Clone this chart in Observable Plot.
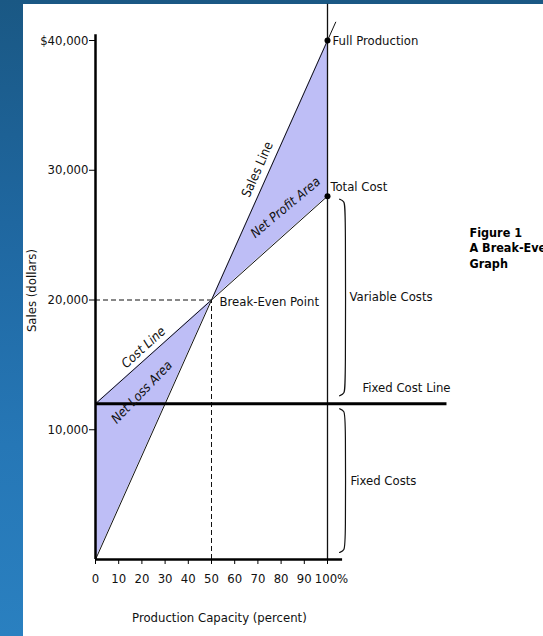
<!DOCTYPE html>
<html><head><meta charset="utf-8">
<script src="https://cdn.jsdelivr.net/npm/d3@7"></script>
<script src="https://cdn.jsdelivr.net/npm/@observablehq/plot@0.6"></script>
<style>
html,body{margin:0;padding:0;background:#fff;}
#frame{position:relative;width:543px;height:636px;overflow:hidden;background:linear-gradient(180deg,#1a5884 0%,#1f67a0 35%,#2677b6 70%,#2a80c0 100%);}
#panel{position:absolute;left:23px;top:4px;right:0;bottom:0;background:#fff;}
#chart{position:absolute;left:0;top:0;}
</style></head><body>
<div id="frame"><div id="panel"></div><div id="chart"></div></div>
<script>
// ---- data ----
const capacity = [0, 50, 100];            // production capacity (%)
const sales    = [0, 20000, 40000];       // sales line ($)
const cost     = [12000, 20000, 28000];   // total cost line ($)
const fixedCost = 12000;
const breakEvenCapacity = 50;
const breakEvenSales = 20000;
const xTicks = [0, 10, 20, 30, 40, 50, 60, 70, 80, 90, 100];
const xTickLabels = ["0", "10", "20", "30", "40", "50", "60", "70", "80", "90", "100%"];
const yTicks = [10000, 20000, 30000, 40000];
const yTickLabels = ["10,000", "20,000", "30,000", "$40,000"];

const rows = capacity.map((c, i) => ({capacity: c, sales: sales[i], cost: cost[i]}));

// ---- layout ----
const W = 543, H = 636, mL = 95, mR = 216, mT = 40, mB = 77;
const FONT = "'DejaVu Sans Condensed','DejaVu Sans',sans-serif";

function brace(topVal, botVal) {
  const xv = 107.8, xh = 105.2, hook = 770;
  return [
    {x: xh, y: topVal},
    {x: xv - 0.5, y: topVal - hook * 0.2},
    {x: xv, y: topVal - hook},
    {x: xv, y: botVal + hook},
    {x: xv - 0.5, y: botVal + hook * 0.2},
    {x: xh, y: botVal}
  ];
}

const slope = sales[2] / capacity[2];
const extX = 103.6;

const label = (t, x, y, o = {}) => Plot.text([t], {x: () => x, y: () => y, text: d => d, fill: "#111", fontSize: 13, ...o});

const chart = Plot.plot({
  width: W, height: H,
  marginLeft: mL, marginRight: mR, marginTop: mT, marginBottom: mB,
  x: {domain: [0, 100]},
  y: {domain: [0, 40000]},
  style: {background: "transparent", fontFamily: FONT, fontSize: "13px", color: "#111", overflow: "visible"},
  marks: [
    Plot.areaY(rows, {x: "capacity", y1: "sales", y2: "cost", fill: "#bebef6"}),
    Plot.ruleY([breakEvenSales], {x1: 0, x2: breakEvenCapacity, stroke: "#111", strokeDasharray: "5,3"}),
    Plot.ruleX([breakEvenCapacity], {y1: 0, y2: breakEvenSales, stroke: "#111", strokeDasharray: "5,3"}),
    Plot.link([0], {x1: () => 0, y1: () => 0, x2: () => extX, y2: () => slope * extX, stroke: "#111", strokeWidth: 1}),
    Plot.line(rows, {x: "capacity", y: "cost", stroke: "#111", strokeWidth: 1}),
    Plot.ruleX([100], {y1: 0, y2: 42800, stroke: "#111", strokeWidth: 1.3}),
    Plot.ruleY([fixedCost], {x1: 0, x2: 151.5, stroke: "#000", strokeWidth: 3}),
    Plot.ruleX([0], {y1: 0, y2: 40450, stroke: "#000", strokeWidth: 2.5}),
    Plot.ruleY([0], {x1: 0, x2: 106.5, stroke: "#000", strokeWidth: 2.5}),
    Plot.axisY(yTicks, {tickFormat: d => yTickLabels[yTicks.indexOf(d)], tickSize: 6, tickPadding: 1, label: null, stroke: "#000", fill: "#111", fontSize: 13}),
    Plot.axisX(xTicks, {tickFormat: d => (d === 100 ? "" : xTickLabels[xTicks.indexOf(d)]), tickSize: 5, tickPadding: 9, label: null, stroke: "#000", fill: "#111", fontSize: 13}),
    Plot.text([xTickLabels[10]], {x: () => xTicks[10], frameAnchor: "bottom", text: d => d, lineAnchor: "top", dy: 14, dx: 4, fill: "#111", fontSize: 13}),
    Plot.dot([0, 1], {x: () => capacity[2], y: i => i === 0 ? sales[2] : cost[2], r: 3, fill: "#000"}),
    Plot.line(brace(27770, 12620), {x: "x", y: "y", curve: "basis", stroke: "#111", strokeWidth: 1.2}),
    Plot.line(brace(11615, 540), {x: "x", y: "y", curve: "basis", stroke: "#111", strokeWidth: 1.2}),
    label("Full Production", 100, sales[2], {textAnchor: "start", dx: 5}),
    label("Total Cost", 100, cost[2], {textAnchor: "start", dx: 3, dy: -9}),
    label("Break-Even Point", breakEvenCapacity, breakEvenSales, {textAnchor: "start", dx: 8, dy: 2}),
    label("Variable Costs", 109.5, 20270, {textAnchor: "start"}),
    label("Fixed Cost Line", 115.1, 13250, {textAnchor: "start"}),
    label("Fixed Costs", 109.9, 6090, {textAnchor: "start"}),
    label("Sales Line", 69.8, 30060, {rotate: -66}),
    label("Net Profit Area", 81.9, 27130, {rotate: -40, fontStyle: "italic"}),
    label("Cost Line", 20.7, 16340, {rotate: -42, fontStyle: "italic"}),
    label("Net Loss Area", 20, 12900, {rotate: -46, fontStyle: "italic"}),
    label("Sales (dollars)", 0, 20730, {rotate: -90, dx: -64}),
    label("Production Capacity (percent)", 53.4, 0, {dy: 58}),
    label("Figure 1\nA Break-Even\nGraph", 161.2, 24050, {textAnchor: "start", lineAnchor: "middle", fontWeight: "bold", fontSize: 12.5, lineHeight: 1.25, fill: "#000"})
  ]
});
document.getElementById("chart").appendChild(chart);
</script>
</body></html>
